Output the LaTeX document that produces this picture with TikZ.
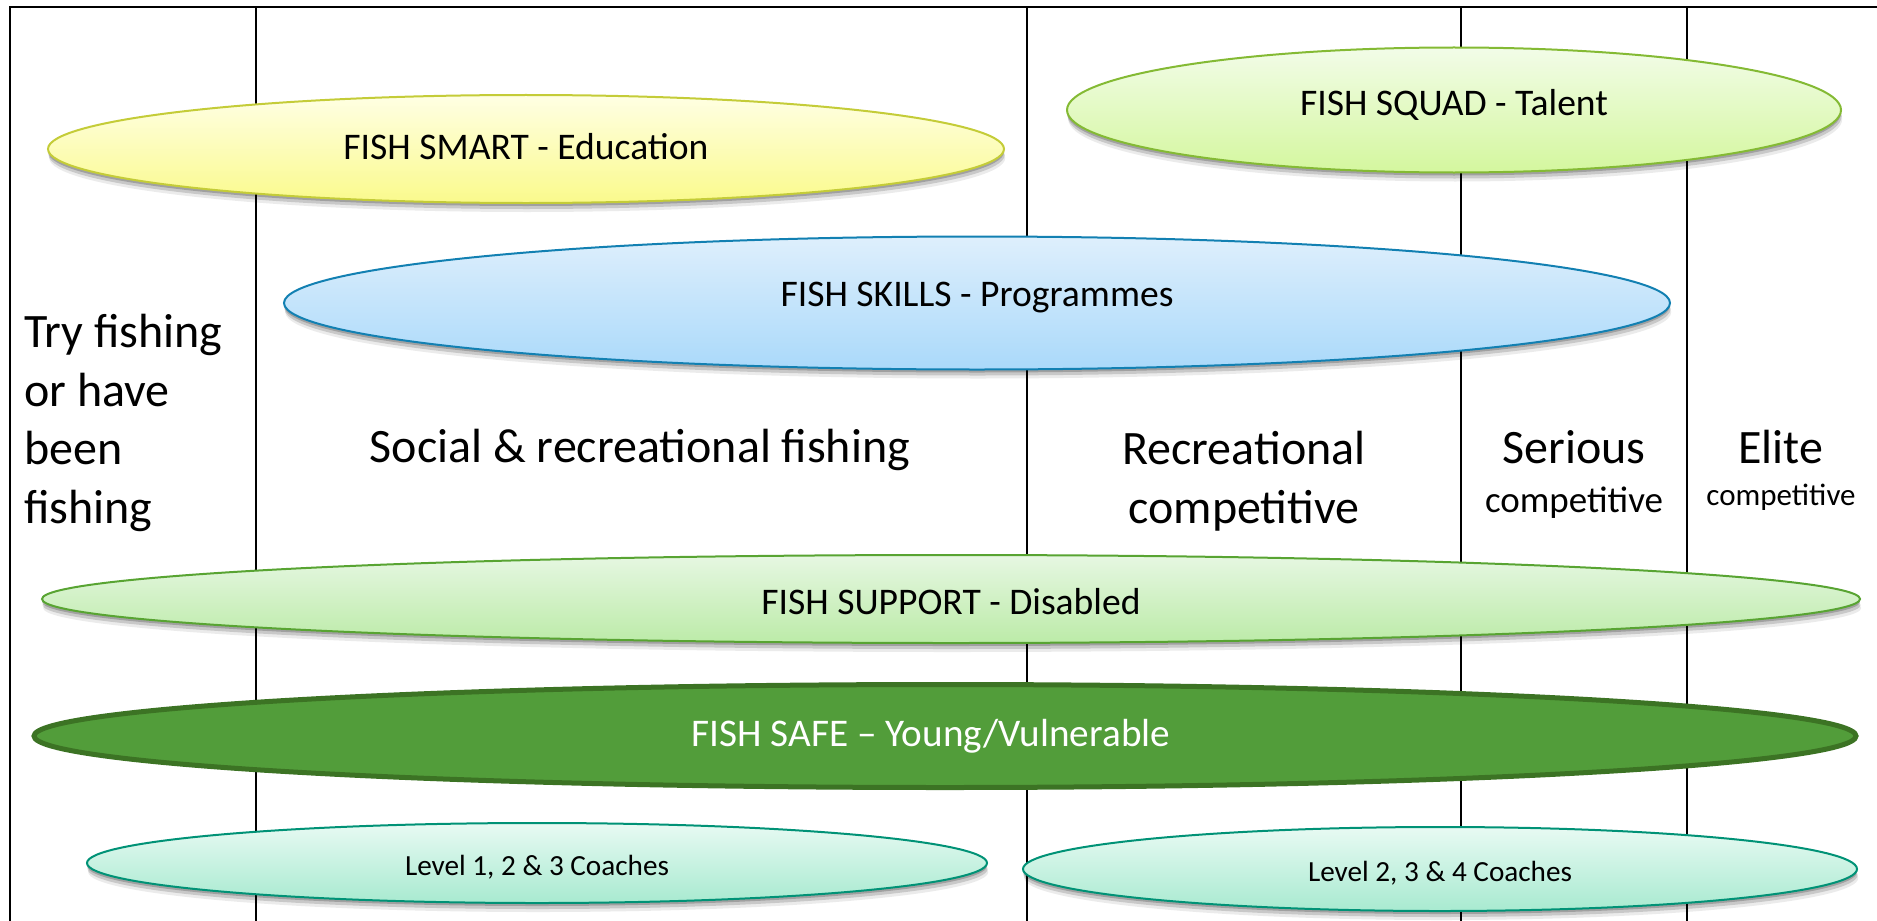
\documentclass[tikz,border=0pt]{standalone}
\usepackage{fontspec}
\setmainfont{Carlito}
\usetikzlibrary{shapes.geometric,shadows}

% band colours (top / bottom of the gradient, outline)
\definecolor{smartTop}{RGB}{255,255,228}
\definecolor{smartBot}{RGB}{250,250,140}
\definecolor{smartLine}{RGB}{196,204,56}
\definecolor{squadTop}{RGB}{242,252,232}
\definecolor{squadBot}{RGB}{212,247,158}
\definecolor{squadLine}{RGB}{132,186,52}
\definecolor{skillTop}{RGB}{222,239,252}
\definecolor{skillBot}{RGB}{170,217,250}
\definecolor{skillLine}{RGB}{18,128,178}
\definecolor{suppTop}{RGB}{230,247,226}
\definecolor{suppBot}{RGB}{188,235,168}
\definecolor{suppLine}{RGB}{88,164,50}
\definecolor{safeFill}{RGB}{82,157,58}
\definecolor{safeLine}{RGB}{60,115,36}
\definecolor{coachTop}{RGB}{232,250,243}
\definecolor{coachBot}{RGB}{168,234,208}
\definecolor{coachLine}{RGB}{0,146,118}

\newcommand\bandtxt{\fontsize{18.8}{23}\selectfont}
\newcommand\coachtxt{\fontsize{14.6}{17}\selectfont}
\newcommand\headtxt{\fontsize{24}{29.2}\selectfont}

\begin{document}
\begin{tikzpicture}[x=0.5pt,y=-0.5pt,
    band/.style={ellipse,inner sep=0pt,line width=1pt},
    bandlbl/.style={font=\bandtxt,inner sep=0pt},
    softshadow/.style={
      drop shadow={shadow xshift=0pt,shadow yshift=-1.5pt,opacity=.2,fill=black},
      drop shadow={shadow xshift=.3pt,shadow yshift=-3pt,opacity=.15,fill=black},
      drop shadow={shadow xshift=.6pt,shadow yshift=-4.5pt,opacity=.08,fill=black}},
    rule/.style={line width=1pt,black},
    head/.style={font=\headtxt,inner sep=0pt,align=center}]

    \useasboundingbox (0,0) rectangle (1877,920);
    \clip (0,0) rectangle (1877,920);

    %% frame and column rules
    \draw[rule] (10,930) -- (10,7) -- (1890,7);
    \foreach \x in {256,1027,1461,1687}
        \draw[rule] (\x,7) -- (\x,930);

    %% column headings
    \node[head,align=left,anchor=west] (try) at (24,423)
        {Try fishing\\or have\\been\\fishing};
    \node[head] (social) at (640,450) {Social \& recreational fishing};
    \node[head] (reccomp) at (1244,481) {Recreational\\competitive};
    \node[head] (serious) at (1574,447) {Serious};
    \node[font=\fontsize{18.5}{22}\selectfont,inner sep=0pt] (seriouscomp) at (1574,503) {competitive};
    \node[head] (elite) at (1781,447) {Elite};
    \node[font=\fontsize{15.5}{19}\selectfont,inner sep=0pt] (elitecomp) at (1781,497) {competitive};

    %% programme bands
    \node[band,softshadow,draw=smartLine,top color=smartTop,bottom color=smartBot,
          minimum width=478pt,minimum height=54pt,
          label={[bandlbl,yshift=1pt]center:FISH SMART - Education}] (smart) at (526,149) {};
    \node[band,softshadow,draw=squadLine,top color=squadTop,bottom color=squadBot,
          minimum width=387pt,minimum height=62.5pt,
          label={[bandlbl,yshift=2.5pt]center:FISH SQUAD - Talent}] (squad) at (1454,110) {};
    \node[band,softshadow,draw=skillLine,top color=skillTop,bottom color=skillBot,
          minimum width=693pt,minimum height=66.5pt,
          label={[bandlbl,yshift=2.5pt]center:FISH SKILLS - Programmes}] (skills) at (977,303) {};
    \node[band,softshadow,draw=suppLine,top color=suppTop,bottom color=suppBot,
          minimum width=909pt,minimum height=44pt,
          label={[bandlbl,yshift=-1.5pt]center:FISH SUPPORT - Disabled}] (support) at (951,599) {};
    \node[band,draw=safeLine,fill=safeFill,line width=2.5pt,
          minimum width=911pt,minimum height=51.5pt,
          label={[bandlbl,font=\fontsize{19.6}{24}\selectfont,text=white,xshift=-7pt]center:FISH SAFE -- Young/Vulnerable}] (safe) at (945,736) {};

    %% coaching levels
    \node[band,softshadow,draw=coachLine,top color=coachTop,bottom color=coachBot,
          minimum width=450pt,minimum height=40pt,
          label={[bandlbl,font=\coachtxt,yshift=-2pt]center:Level 1, 2 \& 3 Coaches}] (coachlow) at (537,863) {};
    \node[band,softshadow,draw=coachLine,top color=coachTop,bottom color=coachBot,
          minimum width=417pt,minimum height=42pt,
          label={[bandlbl,font=\coachtxt,yshift=-2pt]center:Level 2, 3 \& 4 Coaches}] (coachhigh) at (1440,869) {};

\end{tikzpicture}
\end{document}
